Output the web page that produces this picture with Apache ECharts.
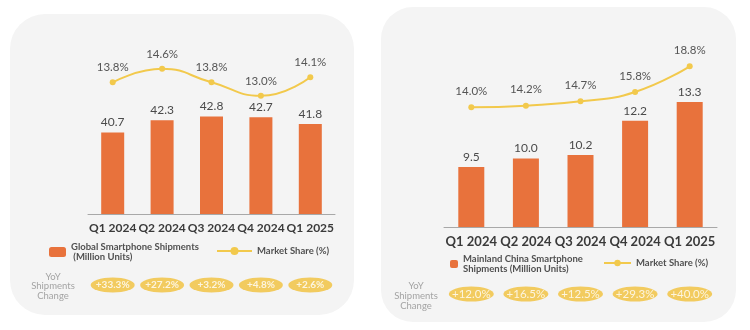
<!DOCTYPE html>
<html lang="en">
<head>
    <meta charset="UTF-8">
    <title>Smartphone Shipments</title>
    <script src="https://cdn.jsdelivr.net/npm/echarts@6/dist/echarts.min.js"></script>
    <style>
        html, body { margin: 0; padding: 0; background: #fff; }
        #main { width: 750px; height: 330px; }
    </style>
</head>
<body>
<div id="main"></div>
<script type="text/javascript">
    // data
    var categories = ['Q1 2024', 'Q2 2024', 'Q3 2024', 'Q4 2024', 'Q1 2025'];
    var globalShipments = [40.7, 42.3, 42.8, 42.7, 41.8];
    var globalShare = [13.8, 14.6, 13.8, 13.0, 14.1];
    var globalYoY = [33.3, 27.2, 3.2, 4.8, 2.6];
    var chinaShipments = [9.5, 10.0, 10.2, 12.2, 13.3];
    var chinaShare = [14.0, 14.2, 14.7, 15.8, 18.8];
    var chinaYoY = [12.0, 16.5, 12.5, 29.3, 40.0];

    var FONT = 'Lato';
    var ORANGE = '#e8723c';
    var YELLOW = '#f2c94c';
    var PILL = '#f1c13a';

    var myChart = echarts.init(document.getElementById('main'));

    function catAxis(grid, size, show) {
        return {
            type: 'category', gridIndex: grid, data: categories, show: show,
            axisLine: { lineStyle: { color: '#a8a8a8', width: 1 } },
            axisTick: { show: false },
            axisLabel: { interval: 0, color: '#3a3a3a', fontWeight: 'bold', fontSize: size, fontFamily: FONT, margin: 8 }
        };
    }
    function valAxis(grid, min, max) {
        return { type: 'value', gridIndex: grid, min: min, max: max, show: false, splitLine: { show: false } };
    }
    function pillData(yoy) {
        return categories.map(function (c, i) { return [c, 'YoY', yoy[i]]; });
    }
    function pillSeries(axis, yoy, size, weight, fontSize) {
        return {
            type: 'scatter', xAxisIndex: axis, yAxisIndex: axis, data: pillData(yoy),
            symbol: 'path://M0,50 A50,50 0 1,1 100,50 A50,50 0 1,1 0,50 Z',
            symbolSize: size, itemStyle: { color: PILL },
            label: {
                show: true, position: 'inside', color: '#fff', fontWeight: weight, fontSize: fontSize, fontFamily: FONT,
                formatter: function (p) { return '+' + p.value[2].toFixed(1) + '%'; }
            },
            silent: true
        };
    }
    function yoyText(x, y, lh) {
        return {
            type: 'text', x: x, y: y, z: 5,
            style: { text: 'YoY\nShipments\nChange', fill: '#a3a3a3', font: '9.5px ' + FONT, align: 'center', lineHeight: lh }
        };
    }
    var legendText = { color: '#505050', fontSize: 9.5, fontWeight: 'bold', fontFamily: FONT, lineHeight: 10 };

    var option = {
        animation: false,
        textStyle: { fontFamily: FONT },
        graphic: [
            { type: 'rect', z: -10, shape: { x: 10, y: 14, width: 344, height: 301, r: 35 }, style: { fill: '#f4f4f4' } },
            { type: 'rect', z: -10, shape: { x: 381, y: 7, width: 355, height: 315, r: 32 }, style: { fill: '#f4f4f4' } },
            yoyText(53, 272, 9.5),
            yoyText(416, 281, 10)
        ],
        legend: [
            { data: ['Global Smartphone Shipments\n (Million Units)'], left: 49, top: 242, padding: 0,
              itemWidth: 17, itemHeight: 10, textStyle: legendText },
            { data: ['Market Share (%)'], left: 216, top: 246, padding: 0,
              itemWidth: 35, itemHeight: 10, textStyle: legendText },
            { data: ['Mainland China Smartphone\nShipments (Million Units)'], left: 450, top: 254, padding: 0,
              itemWidth: 8, itemHeight: 8, textStyle: legendText },
            { data: ['Market Share (%) '], left: 603, top: 258, padding: 0,
              itemWidth: 27, itemHeight: 8, textStyle: legendText }
        ],
        grid: [
            { left: 88, top: 30, width: 247, height: 184 },
            { left: 444, top: 30, width: 273, height: 197 },
            { left: 88, top: 278, width: 247, height: 14 },
            { left: 444, top: 287, width: 273, height: 14 }
        ],
        xAxis: [
            catAxis(0, 12, true),
            catAxis(1, 13, true),
            catAxis(2, 12, false),
            catAxis(3, 12, false)
        ],
        yAxis: [
            valAxis(0, 30, 54.15),
            valAxis(1, 6, 17.5),
            { type: 'category', gridIndex: 2, data: ['YoY'], show: false },
            { type: 'category', gridIndex: 3, data: ['YoY'], show: false },
            valAxis(0, 6, 16.9),
            valAxis(1, 0, 23.05)
        ],
        series: [
            {
                name: 'Global Smartphone Shipments\n (Million Units)', type: 'bar', xAxisIndex: 0, yAxisIndex: 0,
                data: globalShipments, barWidth: 23, itemStyle: { color: ORANGE },
                label: { show: true, position: 'top', distance: 4, color: '#4a4a4a', fontSize: 12, fontFamily: FONT,
                         formatter: function (p) { return p.value.toFixed(1); } }
            },
            {
                name: 'Market Share (%)', type: 'line', xAxisIndex: 0, yAxisIndex: 4,
                data: globalShare, smooth: true, symbol: 'circle', symbolSize: 6,
                lineStyle: { color: YELLOW, width: 2 }, itemStyle: { color: YELLOW },
                label: { show: true, position: 'top', distance: 6, color: '#555', fontSize: 11.5, fontFamily: FONT,
                         formatter: function (p) { return p.value.toFixed(1) + '%'; } }
            },
            {
                name: 'Mainland China Smartphone\nShipments (Million Units)', type: 'bar', xAxisIndex: 1, yAxisIndex: 1,
                data: chinaShipments, barWidth: 26, itemStyle: { color: ORANGE },
                label: { show: true, position: 'top', distance: 4, color: '#4a4a4a', fontSize: 12, fontFamily: FONT,
                         formatter: function (p) { return p.value.toFixed(1); } }
            },
            {
                name: 'Market Share (%) ', type: 'line', xAxisIndex: 1, yAxisIndex: 5,
                data: chinaShare, smooth: true, symbol: 'circle', symbolSize: 6,
                lineStyle: { color: YELLOW, width: 2 }, itemStyle: { color: YELLOW },
                label: { show: true, position: 'top', distance: 7, color: '#555', fontSize: 11.5, fontFamily: FONT,
                         formatter: function (p) { return p.value.toFixed(1) + '%'; } }
            },
            pillSeries(2, globalYoY, [44, 15], 'bold', 10),
            pillSeries(3, chinaYoY, [45, 15], 'normal', 11.5)
        ]
    };

    myChart.setOption(option);
</script>
</body>
</html>
